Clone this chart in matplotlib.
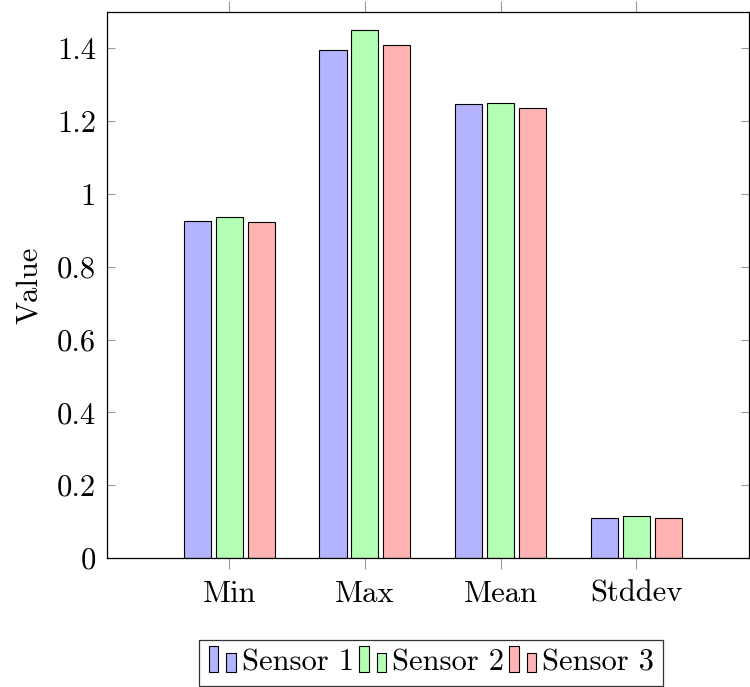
import numpy as np
import matplotlib
matplotlib.use("Agg")
import matplotlib.pyplot as plt
from matplotlib.patches import Rectangle
from matplotlib.legend_handler import HandlerBase

# values
categories = ["Min", "Max", "Mean", "Stddev"]
sensor_1 = [0.927, 1.395, 1.248, 0.110]
sensor_2 = [0.938, 1.451, 1.249, 0.115]
sensor_3 = [0.923, 1.409, 1.236, 0.109]
series_names = ["Sensor 1", "Sensor 2", "Sensor 3"]
y_ticks = [0, 0.2, 0.4, 0.6, 0.8, 1, 1.2, 1.4]
y_tick_labels = ["0", "0.2", "0.4", "0.6", "0.8", "1", "1.2", "1.4"]

colors = ["#b3b3ff", "#b3ffb3", "#ffb3b3"]

plt.rcParams["font.family"] = "serif"
plt.rcParams["font.serif"] = ["cmr10", "DejaVu Serif"]
plt.rcParams["mathtext.fontset"] = "cm"
plt.rcParams["axes.formatter.use_mathtext"] = True


# pgfplots style legend image: two small bars
class TwoBarHandler(HandlerBase):
    def create_artists(self, legend, orig_handle, xdescent, ydescent,
                       width, height, fontsize, trans):
        fc = orig_handle.get_facecolor()
        bw = width * 0.32
        r1 = Rectangle((-xdescent + width * 0.02, -ydescent - height * 0.05),
                       bw, height * 1.2, facecolor=fc, edgecolor="black",
                       lw=0.8, transform=trans)
        r2 = Rectangle((-xdescent + width * 0.6, -ydescent - height * 0.05),
                       bw, height * 0.88, facecolor=fc, edgecolor="black",
                       lw=0.8, transform=trans)
        return [r1, r2]


fig = plt.figure(figsize=(7.5, 6.87), dpi=100)
ax = fig.add_axes([0.1427, 0.1878, 0.856, 0.7947])

x = np.arange(len(categories))
offset = 0.235
width = 0.2
handles = []
for i, (vals, name) in enumerate(zip([sensor_1, sensor_2, sensor_3], series_names)):
    bars = ax.bar(x + (i - 1) * offset, vals, width, color=colors[i],
                  edgecolor="black", linewidth=0.8, label=name)
    handles.append(bars[0])

ax.set_xlim(-0.9, 3.83)
ax.set_ylim(0, 1.5)
ax.set_xticks(x)
ax.set_xticklabels(categories)
ax.set_yticks(y_ticks)
ax.set_yticklabels(y_tick_labels)
ax.set_ylabel("Value", fontsize=22, labelpad=10)

ax.tick_params(axis="x", direction="out", top=True, length=8, color="#999999",
               labelsize=22, pad=8)
ax.tick_params(axis="y", direction="in", right=True, length=6, color="#999999",
               labelsize=22, pad=8)
for s in ax.spines.values():
    s.set_linewidth(0.9)

leg = ax.legend(handles, series_names, handler_map={Rectangle: TwoBarHandler()},
                loc="upper left", bbox_to_anchor=(0.143, -0.15), ncol=3,
                fontsize=22, frameon=True, fancybox=False, edgecolor="black",
                handlelength=1.0, handletextpad=0.1, columnspacing=0.15,
                borderpad=0.3, borderaxespad=0)
leg.get_frame().set_linewidth(0.9)

fig.savefig("out.png", dpi=100)
